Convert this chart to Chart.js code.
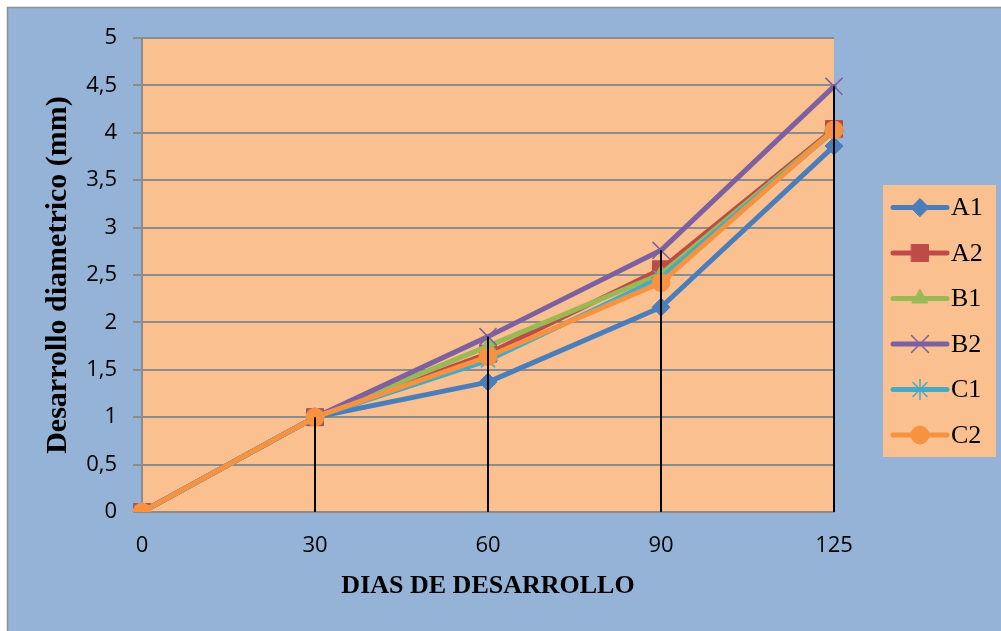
<!DOCTYPE html>
<html>
<head>
<meta charset="utf-8">
<script src="https://cdn.jsdelivr.net/npm/chart.js@4/dist/chart.umd.min.js"></script>
<style>
  html, body { margin: 0; padding: 0; background: #ffffff; }
  #chart { display: block; }
</style>
</head>
<body>
<canvas id="chart" width="1001" height="631"></canvas>
<script>
// dias de desarrollo
const dias = ['0', '30', '60', '90', '125'];

// desarrollo diametrico (mm) por tratamiento
const serieA1 = [0, 1, 1.37, 2.16, 3.86];
const serieA2 = [0, 1, 1.67, 2.56, 4.04];
const serieB1 = [0, 1, 1.75, 2.51, 4.03];
const serieB2 = [0, 1, 1.85, 2.76, 4.49];
const serieC1 = [0, 1, 1.60, 2.47, 4.02];
const serieC2 = [0, 1, 1.64, 2.42, 4.03];

const nombres = ['A1', 'A2', 'B1', 'B2', 'C1', 'C2'];
const colores = ['#4A7EBB', '#BE4B48', '#98B954', '#7D60A0', '#46AAC5', '#F69240'];
const marcadores = ['rectRot', 'rect', 'triangle', 'crossRot', 'star', 'circle'];
const radios = [9, 12, 9, 12, 10, 9];

const yTicks = { min: 0, max: 5, step: 0.5 };

const series = [serieA1, serieA2, serieB1, serieB2, serieC1, serieC2];

const datasets = series.map(function(vals, i) {
    const hueco = marcadores[i] === 'crossRot' || marcadores[i] === 'star';
    return {
        label: nombres[i],
        data: vals,
        borderColor: colores[i],
        backgroundColor: colores[i],
        borderWidth: 5,
        borderCapStyle: 'round',
        borderJoinStyle: 'round',
        pointStyle: marcadores[i],
        pointRadius: radios[i],
        pointHoverRadius: radios[i],
        pointBorderWidth: hueco ? 1.5 : 1,
        pointBorderColor: colores[i],
        pointBackgroundColor: colores[i],
        tension: 0,
        order: series.length - i
    };
});

// fondo azul con marco y area de trazado
const fondo = {
    id: 'fondo',
    beforeDraw(chart) {
        const ctx = chart.ctx;
        const a = chart.chartArea;
        ctx.save();
        ctx.fillStyle = '#ffffff';
        ctx.fillRect(0, 0, chart.width, chart.height);
        ctx.fillStyle = '#95B3D7';
        ctx.fillRect(7, 7, chart.width - 7, chart.height - 7);
        ctx.strokeStyle = '#8f8f8f';
        ctx.lineWidth = 1.5;
        ctx.beginPath();
        ctx.moveTo(7.5, chart.height);
        ctx.lineTo(7.5, 7.5);
        ctx.lineTo(chart.width, 7.5);
        ctx.stroke();
        ctx.fillStyle = '#FAC090';
        ctx.fillRect(a.left, a.top, a.right - a.left, a.bottom - a.top);
        ctx.restore();
    }
};

// lineas de caida desde el valor mas alto de cada dia
const lineasCaida = {
    id: 'lineasCaida',
    afterDatasetsDraw(chart) {
        const ctx = chart.ctx;
        const x = chart.scales.x;
        const y = chart.scales.y;
        ctx.save();
        ctx.strokeStyle = '#000000';
        ctx.lineWidth = 2;
        dias.forEach(function(d, i) {
            const maximo = Math.max.apply(null, series.map(s => s[i]));
            if (maximo <= 0) return;
            const px = Math.round(x.getPixelForValue(i));
            ctx.beginPath();
            ctx.moveTo(px, y.getPixelForValue(maximo));
            ctx.lineTo(px, y.getPixelForValue(0));
            ctx.stroke();
        });
        ctx.restore();
    }
};

// leyenda a la derecha con linea y marcador
const leyenda = {
    id: 'leyenda',
    afterDraw(chart) {
        const ctx = chart.ctx;
        const caja = { x: 883, y: 185, w: 113, h: 272 };
        ctx.save();
        ctx.fillStyle = '#FAC090';
        ctx.fillRect(caja.x, caja.y, caja.w, caja.h);
        chart.data.datasets.forEach(function(ds, i) {
            const cy = caja.y + 22.5 + i * 45.5;
            ctx.strokeStyle = ds.borderColor;
            ctx.lineWidth = 5;
            ctx.lineCap = 'round';
            ctx.beginPath();
            ctx.moveTo(893, cy);
            ctx.lineTo(947, cy);
            ctx.stroke();
            ctx.fillStyle = ds.pointBackgroundColor;
            ctx.strokeStyle = ds.pointBorderColor;
            ctx.lineWidth = ds.pointBorderWidth;
            Chart.helpers.drawPoint(ctx, {
                pointStyle: ds.pointStyle,
                radius: ds.pointRadius,
                rotation: 0,
                borderWidth: ds.pointBorderWidth
            }, 920, cy);
            ctx.fillStyle = '#000000';
            ctx.font = '26px "Liberation Serif", "Times New Roman", serif';
            ctx.textAlign = 'left';
            ctx.textBaseline = 'middle';
            ctx.fillText(ds.label, 951, cy + 1);
        });
        ctx.restore();
    }
};

new Chart(document.getElementById('chart'), {
    type: 'line',
    data: { labels: dias, datasets: datasets },
    plugins: [fondo, lineasCaida, leyenda],
    options: {
        responsive: false,
        animation: false,
        devicePixelRatio: 1,
        layout: { padding: { top: 38, right: 167, bottom: 0, left: 0 } },
        plugins: {
            legend: { display: false },
            tooltip: { enabled: false }
        },
        scales: {
            x: {
                type: 'category',
                offset: false,
                afterFit(scale) { scale.height = 119; },
                grid: { display: false, drawTicks: false },
                border: { display: true, color: '#8c8c8c', width: 2 },
                ticks: {
                    color: '#000000',
                    padding: 21,
                    font: { family: '"Open Sans", sans-serif', size: 22 }
                },
                title: {
                    display: true,
                    text: 'DIAS DE DESARROLLO',
                    color: '#000000',
                    padding: { top: 0, bottom: 29 },
                    font: { family: '"Liberation Serif", "Times New Roman", serif', size: 26, weight: 'bold' }
                }
            },
            y: {
                min: yTicks.min,
                max: yTicks.max,
                afterFit(scale) { scale.width = 142; },
                grid: { color: '#8c8c8c', lineWidth: 2, tickLength: 9, drawTicks: true },
                border: { display: true, color: '#8c8c8c', width: 2 },
                ticks: {
                    stepSize: yTicks.step,
                    color: '#000000',
                    padding: 16,
                    font: { family: '"Open Sans", sans-serif', size: 22 },
                    callback: function(v) { return String(v).replace('.', ','); }
                },
                title: {
                    display: true,
                    text: 'Desarrollo diametrico (mm)',
                    color: '#000000',
                    padding: { top: 40, bottom: 0 },
                    font: { family: '"Liberation Serif", "Times New Roman", serif', size: 30, weight: 'bold' }
                }
            }
        }
    }
});
</script>
</body>
</html>
